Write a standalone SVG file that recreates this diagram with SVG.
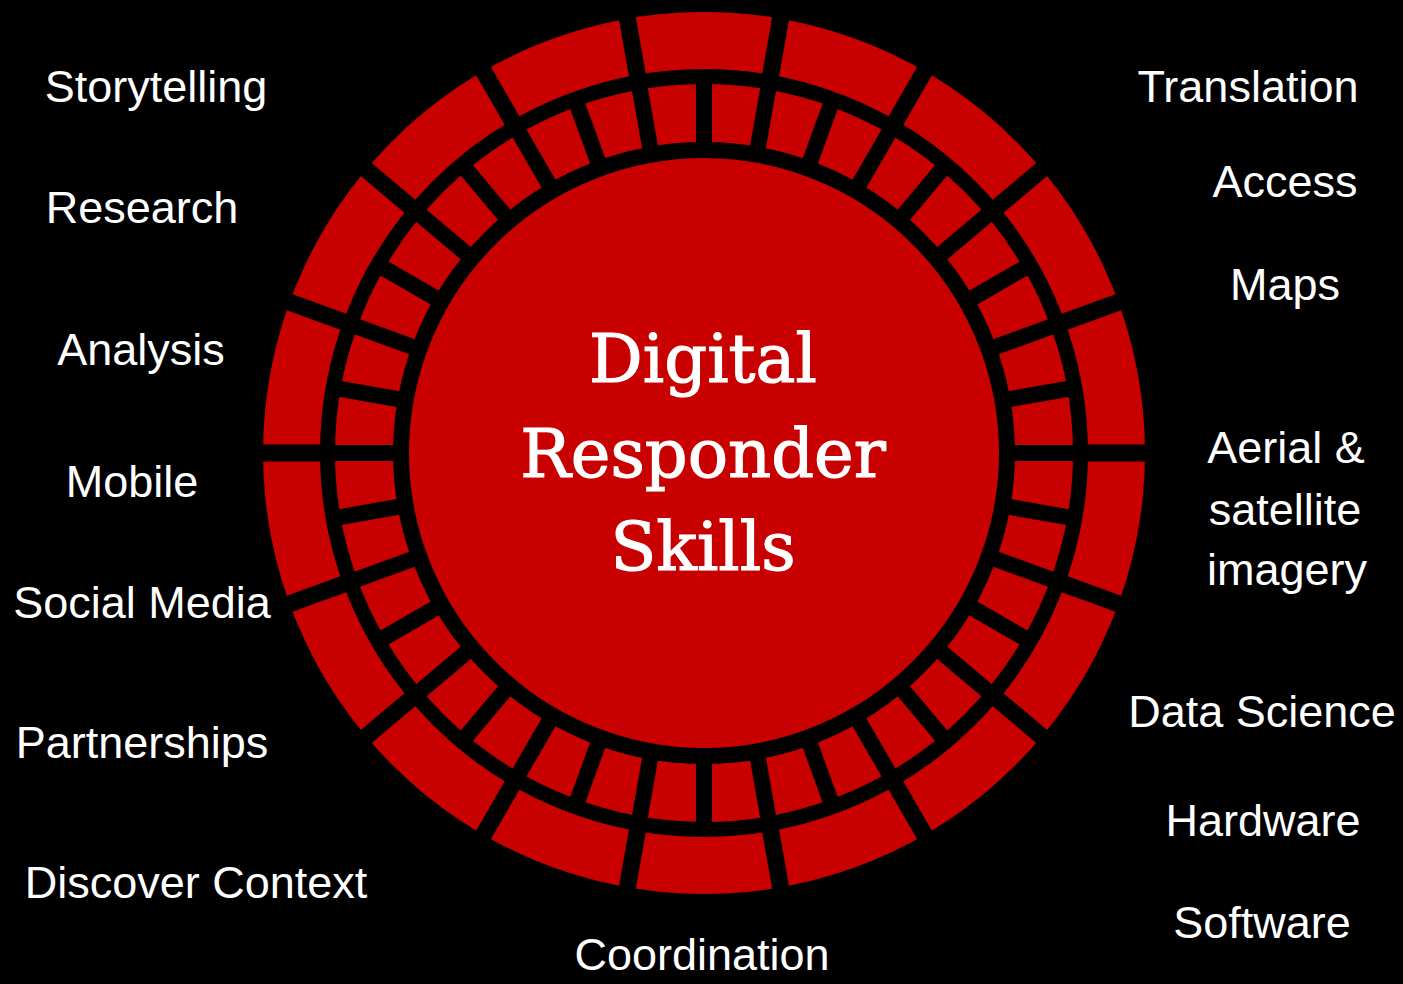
<svg xmlns="http://www.w3.org/2000/svg" xmlns:xlink="http://www.w3.org/1999/xlink" width="1403" height="984" viewBox="0 0 1403 984">
  <style>
    .lbl { font-family: "Liberation Sans", Arial, sans-serif; font-size: 45px; fill: #ffffff; text-anchor: middle; }
    .title { font-family: "DejaVu Serif", "Liberation Serif", serif; font-size: 67px; fill: #ffffff; stroke: #ffffff; stroke-width: 1.2; text-anchor: middle; }
    .gapM { stroke: #000000; stroke-width: 16; }
    .gapO { stroke: #000000; stroke-width: 17; }
  </style>
  <defs>
    <line id="mg" class="gapM" x1="0" y1="-299" x2="0" y2="-380"/>
    <line id="og" class="gapO" x1="0" y1="-375" x2="0" y2="-446"/>
  </defs>
  <rect x="0" y="0" width="1403" height="984" fill="#000000"/>

  <g id="wheel" transform="translate(704,453)">
    <circle r="441" fill="#c80000"/>
    <circle r="376.5" fill="none" stroke="#000000" stroke-width="15"/>
    <circle r="303" fill="none" stroke="#000000" stroke-width="16"/>
    <g id="middle-gaps">
      <use xlink:href="#mg" transform="rotate(0)"/>
      <use xlink:href="#mg" transform="rotate(10)"/>
      <use xlink:href="#mg" transform="rotate(20)"/>
      <use xlink:href="#mg" transform="rotate(30)"/>
      <use xlink:href="#mg" transform="rotate(40)"/>
      <use xlink:href="#mg" transform="rotate(50)"/>
      <use xlink:href="#mg" transform="rotate(60)"/>
      <use xlink:href="#mg" transform="rotate(70)"/>
      <use xlink:href="#mg" transform="rotate(80)"/>
      <use xlink:href="#mg" transform="rotate(90)"/>
      <use xlink:href="#mg" transform="rotate(100)"/>
      <use xlink:href="#mg" transform="rotate(110)"/>
      <use xlink:href="#mg" transform="rotate(120)"/>
      <use xlink:href="#mg" transform="rotate(130)"/>
      <use xlink:href="#mg" transform="rotate(140)"/>
      <use xlink:href="#mg" transform="rotate(150)"/>
      <use xlink:href="#mg" transform="rotate(160)"/>
      <use xlink:href="#mg" transform="rotate(170)"/>
      <use xlink:href="#mg" transform="rotate(180)"/>
      <use xlink:href="#mg" transform="rotate(190)"/>
      <use xlink:href="#mg" transform="rotate(200)"/>
      <use xlink:href="#mg" transform="rotate(210)"/>
      <use xlink:href="#mg" transform="rotate(220)"/>
      <use xlink:href="#mg" transform="rotate(230)"/>
      <use xlink:href="#mg" transform="rotate(240)"/>
      <use xlink:href="#mg" transform="rotate(250)"/>
      <use xlink:href="#mg" transform="rotate(260)"/>
      <use xlink:href="#mg" transform="rotate(270)"/>
      <use xlink:href="#mg" transform="rotate(280)"/>
      <use xlink:href="#mg" transform="rotate(290)"/>
      <use xlink:href="#mg" transform="rotate(300)"/>
      <use xlink:href="#mg" transform="rotate(310)"/>
      <use xlink:href="#mg" transform="rotate(320)"/>
      <use xlink:href="#mg" transform="rotate(330)"/>
      <use xlink:href="#mg" transform="rotate(340)"/>
      <use xlink:href="#mg" transform="rotate(350)"/>
    </g>
    <g id="outer-gaps">
      <use xlink:href="#og" transform="rotate(10)"/>
      <use xlink:href="#og" transform="rotate(30)"/>
      <use xlink:href="#og" transform="rotate(50)"/>
      <use xlink:href="#og" transform="rotate(70)"/>
      <use xlink:href="#og" transform="rotate(90)"/>
      <use xlink:href="#og" transform="rotate(110)"/>
      <use xlink:href="#og" transform="rotate(130)"/>
      <use xlink:href="#og" transform="rotate(150)"/>
      <use xlink:href="#og" transform="rotate(170)"/>
      <use xlink:href="#og" transform="rotate(190)"/>
      <use xlink:href="#og" transform="rotate(210)"/>
      <use xlink:href="#og" transform="rotate(230)"/>
      <use xlink:href="#og" transform="rotate(250)"/>
      <use xlink:href="#og" transform="rotate(270)"/>
      <use xlink:href="#og" transform="rotate(290)"/>
      <use xlink:href="#og" transform="rotate(310)"/>
      <use xlink:href="#og" transform="rotate(330)"/>
      <use xlink:href="#og" transform="rotate(350)"/>
    </g>
  </g>

  <g id="title">
    <text class="title" x="703" y="382">Digital</text>
    <text class="title" x="703" y="477">Responder</text>
    <text class="title" x="703" y="570">Skills</text>
  </g>

  <g id="label-storytelling"><text class="lbl" x="156" y="102">Storytelling</text></g>
  <g id="label-research"><text class="lbl" x="142" y="223">Research</text></g>
  <g id="label-analysis"><text class="lbl" x="141" y="365">Analysis</text></g>
  <g id="label-mobile"><text class="lbl" x="132" y="497">Mobile</text></g>
  <g id="label-social-media"><text class="lbl" x="142" y="618">Social Media</text></g>
  <g id="label-partnerships"><text class="lbl" x="142" y="758">Partnerships</text></g>
  <g id="label-discover-context"><text class="lbl" x="196" y="898">Discover Context</text></g>
  <g id="label-coordination"><text class="lbl" x="702" y="970">Coordination</text></g>
  <g id="label-translation"><text class="lbl" x="1248" y="102">Translation</text></g>
  <g id="label-access"><text class="lbl" x="1285" y="197">Access</text></g>
  <g id="label-maps"><text class="lbl" x="1285" y="300">Maps</text></g>
  <g id="label-aerial">
    <text class="lbl" x="1286" y="463">Aerial &amp;</text>
    <text class="lbl" x="1285" y="525">satellite</text>
    <text class="lbl" x="1287" y="585">imagery</text>
  </g>
  <g id="label-data-science"><text class="lbl" x="1262" y="727">Data Science</text></g>
  <g id="label-hardware"><text class="lbl" x="1263" y="836">Hardware</text></g>
  <g id="label-software"><text class="lbl" x="1262" y="938">Software</text></g>
</svg>
